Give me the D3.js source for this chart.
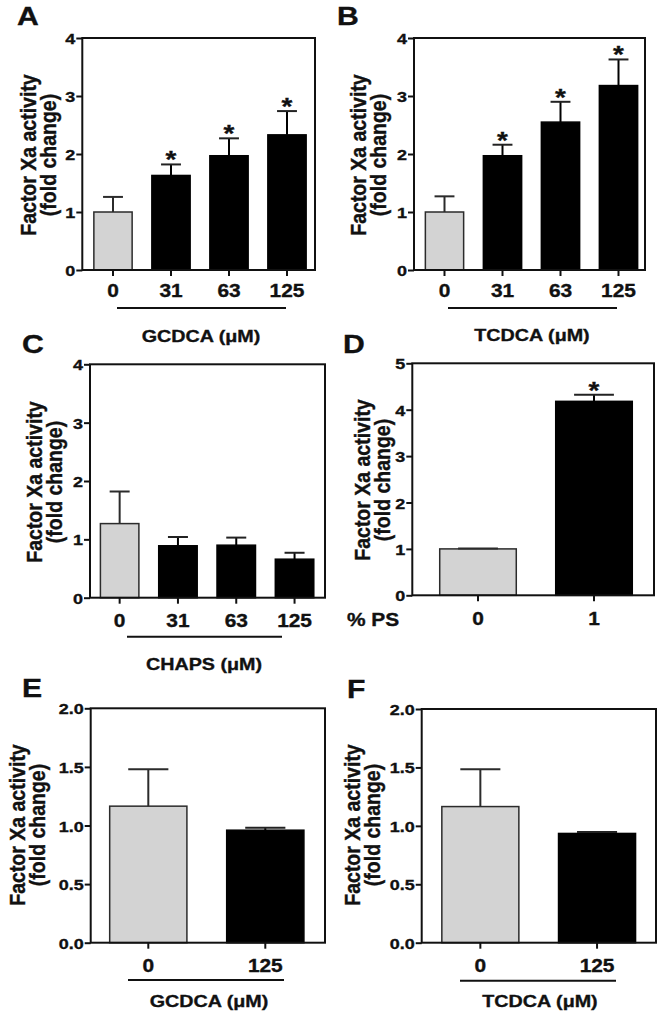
<!DOCTYPE html>
<html>
<head>
<meta charset="utf-8">
<script src="https://cdn.jsdelivr.net/npm/d3@7/dist/d3.min.js"></script>
<style>
  html, body { margin: 0; padding: 0; background: #fff; }
  svg { display: block; }
  text { font-family: "Liberation Sans", Arial, Helvetica, sans-serif; font-weight: bold; fill: #111; stroke: #111; stroke-width: 0.35px; }
</style>
</head>
<body>
<svg id="chart" width="658" height="1020"></svg>
<script>
// ---------------- DATA ----------------
const dosesFour = ["0", "31", "63", "125"];
const dosesTwo = ["0", "125"];
const psLevels = ["0", "1"];

const meanA = [1.00, 1.63, 1.97, 2.33];
const semA  = [0.26, 0.19, 0.30, 0.41];
const sigA  = [false, true, true, true];

const meanB = [1.00, 1.97, 2.55, 3.18];
const semB  = [0.27, 0.19, 0.35, 0.45];
const sigB  = [false, true, true, true];

const meanC = [1.27, 0.89, 0.90, 0.66];
const semC  = [0.55, 0.15, 0.13, 0.11];
const sigC  = [false, false, false, false];

const meanD = [1.00, 4.18];
const semD  = [0.01, 0.14];
const sigD  = [false, true];

const meanE = [1.165, 0.96];
const semE  = [0.315, 0.02];
const sigE  = [false, false];

const meanF = [1.165, 0.935];
const semF  = [0.32, 0.012];
const sigF  = [false, false];

const ticksFour = [0, 1, 2, 3, 4];
const ticksFive = [0, 1, 2, 3, 4, 5];
const ticksTwo  = [0, 0.5, 1.0, 1.5, 2.0];

const yTitle = ["Factor Xa activity", "(fold change)"];
const groupLabels = ["GCDCA (μM)", "TCDCA (μM)", "CHAPS (μM)", "% PS", "GCDCA (μM)", "TCDCA (μM)"];
const panelLetters = ["A", "B", "C", "D", "E", "F"];

// ---------------- LAYOUT ----------------
const S = 1.16; // horizontal stretch of the reference typography
const panels = [
  { letter: panelLetters[0], cats: dosesFour, mean: meanA, sem: semA, sig: sigA, yMax: 4, ticks: ticksFour, fmt: "d",
    frame: [82.3, 315, 38, 270], band: [84, 316], letterPos: [17, 25], ylab: [36, 56, 155], xlabOff: 26.5,
    line: [117, 286, 308], group: { text: groupLabels[0], x: 201, y: 342, anchor: "middle" } },
  { letter: panelLetters[1], cats: dosesFour, mean: meanB, sem: semB, sig: sigB, yMax: 4, ticks: ticksFour, fmt: "d",
    frame: [414, 645, 38, 270], band: [415.5, 647.5], letterPos: [337, 25], ylab: [366, 386, 155], xlabOff: 26.5,
    line: [448, 617, 308], group: { text: groupLabels[1], x: 532, y: 341, anchor: "middle" } },
  { letter: panelLetters[2], cats: dosesFour, mean: meanC, sem: semC, sig: sigC, yMax: 4, ticks: ticksFour, fmt: "d",
    frame: [90, 325, 364.3, 597.7], band: [90.5, 323.7], letterPos: [22, 353], ylab: [42, 62, 482], xlabOff: 29,
    line: [127, 282, 636.7], group: { text: groupLabels[2], x: 204, y: 670, anchor: "middle" } },
  { letter: panelLetters[3], cats: psLevels, mean: meanD, sem: semD, sig: sigD, yMax: 5, ticks: ticksFive, fmt: "d",
    frame: [412.3, 654, 363.3, 595.3], band: [420, 652], letterPos: [343, 353], ylab: [370, 390, 480], xlabOff: 30,
    line: null, group: { text: groupLabels[3], x: 347, y: 625.5, anchor: "start", big: true } },
  { letter: panelLetters[4], cats: dosesTwo, mean: meanE, sem: semE, sig: sigE, yMax: 2, ticks: ticksTwo, fmt: ".1f",
    frame: [90.7, 325, 708.3, 942.7], band: [89.8, 323.8], letterPos: [22, 697], ylab: [25, 45, 825], xlabOff: 29,
    line: [128, 284, 980], group: { text: groupLabels[4], x: 209, y: 1007, anchor: "middle" } },
  { letter: panelLetters[5], cats: dosesTwo, mean: meanF, sem: semF, sig: sigF, yMax: 2, ticks: ticksTwo, fmt: ".1f",
    frame: [421.7, 656, 709, 942.7], band: [422, 655.4], letterPos: [347, 698], ylab: [360, 380, 825], xlabOff: 29.5,
    line: [460, 616, 980.7], group: { text: groupLabels[5], x: 540, y: 1007, anchor: "middle" } }
];

const svg = d3.select("#chart");
const INK = "#111";
const FONT = '"Liberation Sans", Arial, sans-serif';

function stretchedText(g, txt, x, y, size, anchor) {
  return g.append("text")
    .attr("transform", `translate(${x},${y}) scale(${S},1)`)
    .attr("text-anchor", anchor || "start")
    .style("font-size", size + "px")
    .text(txt);
}

panels.forEach(p => {
  const [fx0, fx1, fy0, fy1] = p.frame;
  const g = svg.append("g");

  const x = d3.scaleBand().domain(p.cats).range(p.band).paddingInner(0.34).paddingOuter(0.17);
  const y = d3.scaleLinear().domain([0, p.yMax]).range([fy1, fy0]);

  const data = p.cats.map((c, i) => ({ c, i, m: p.mean[i], e: p.sem[i], s: p.sig[i] }));

  // bars
  g.selectAll("rect.bar").data(data).enter().append("rect")
    .attr("class", "bar")
    .attr("x", d => x(d.c))
    .attr("width", x.bandwidth())
    .attr("y", d => y(d.m))
    .attr("height", d => y(0) - y(d.m))
    .attr("fill", d => d.i === 0 ? "#d3d3d3" : "#000")
    .attr("stroke", d => d.i === 0 ? "#2b2b2b" : "#000")
    .attr("stroke-width", 1.5);

  // error bars (upper only)
  const capW = x.bandwidth() * 0.52;
  const eb = g.selectAll("g.eb").data(data).enter().append("g").attr("class", "eb");
  eb.append("line")
    .attr("x1", d => x(d.c) + x.bandwidth() / 2)
    .attr("x2", d => x(d.c) + x.bandwidth() / 2)
    .attr("y1", d => y(d.m))
    .attr("y2", d => y(d.m + d.e))
    .attr("stroke", d => d.i === 0 ? "#2b2b2b" : "#000")
    .attr("stroke-width", 2);
  eb.append("line")
    .attr("x1", d => x(d.c) + x.bandwidth() / 2 - capW / 2)
    .attr("x2", d => x(d.c) + x.bandwidth() / 2 + capW / 2)
    .attr("y1", d => y(d.m + d.e))
    .attr("y2", d => y(d.m + d.e))
    .attr("stroke", d => d.i === 0 ? "#2b2b2b" : "#222")
    .attr("stroke-width", 2);

  // significance asterisks
  data.filter(d => d.s).forEach(d => {
    stretchedText(g, "*", x(d.c) + x.bandwidth() / 2, y(d.m + d.e) + 4, 24, "middle");
  });

  // frame (box)
  g.append("rect")
    .attr("x", fx0).attr("y", fy0)
    .attr("width", fx1 - fx0).attr("height", fy1 - fy0)
    .attr("fill", "none").attr("stroke", INK).attr("stroke-width", 2);

  // y axis
  const yAxis = d3.axisLeft(y).tickValues(p.ticks).tickSize(6).tickFormat(d3.format(p.fmt));
  const ya = g.append("g").attr("transform", `translate(${fx0},0)`).call(yAxis);
  ya.select(".domain").remove();
  ya.selectAll(".tick line").attr("stroke", INK).attr("stroke-width", 2);
  ya.selectAll(".tick text")
    .attr("x", null).attr("dy", null)
    .attr("transform", `translate(-7,5.5) scale(${S},1)`)
    .attr("fill", INK)
    .style("font-size", "15.5px")
    .style("font-weight", "bold")
    .style("font-family", FONT);

  // x axis
  const xAxis = d3.axisBottom(x).tickSize(6);
  const xa = g.append("g").attr("transform", `translate(0,${fy1})`).call(xAxis);
  xa.select(".domain").remove();
  xa.selectAll(".tick line").attr("stroke", INK).attr("stroke-width", 2);
  xa.selectAll(".tick text")
    .attr("y", null).attr("dy", null)
    .attr("transform", `translate(0,${p.xlabOff}) scale(${S},1)`)
    .attr("fill", INK)
    .style("font-size", "18px")
    .style("font-weight", "bold")
    .style("font-family", FONT);

  // y title (two lines, rotated)
  const [bx1, bx2, cy] = p.ylab;
  [bx1, bx2].forEach((bx, k) => {
    g.append("text")
      .attr("transform", `translate(${bx},${cy}) scale(${S},1) rotate(-90)`)
      .attr("text-anchor", "middle")
      .style("font-size", "19.5px")
      .text(yTitle[k]);
  });

  // panel letter
  stretchedText(g, p.letter, p.letterPos[0], p.letterPos[1], 26, "start");

  // group underline and label
  if (p.line) {
    g.append("line")
      .attr("x1", p.line[0]).attr("x2", p.line[1])
      .attr("y1", p.line[2]).attr("y2", p.line[2])
      .attr("stroke", INK).attr("stroke-width", 2);
  }
  stretchedText(g, p.group.text, p.group.x, p.group.y, p.group.big ? 18 : 17, p.group.anchor);
});
</script>
</body>
</html>
